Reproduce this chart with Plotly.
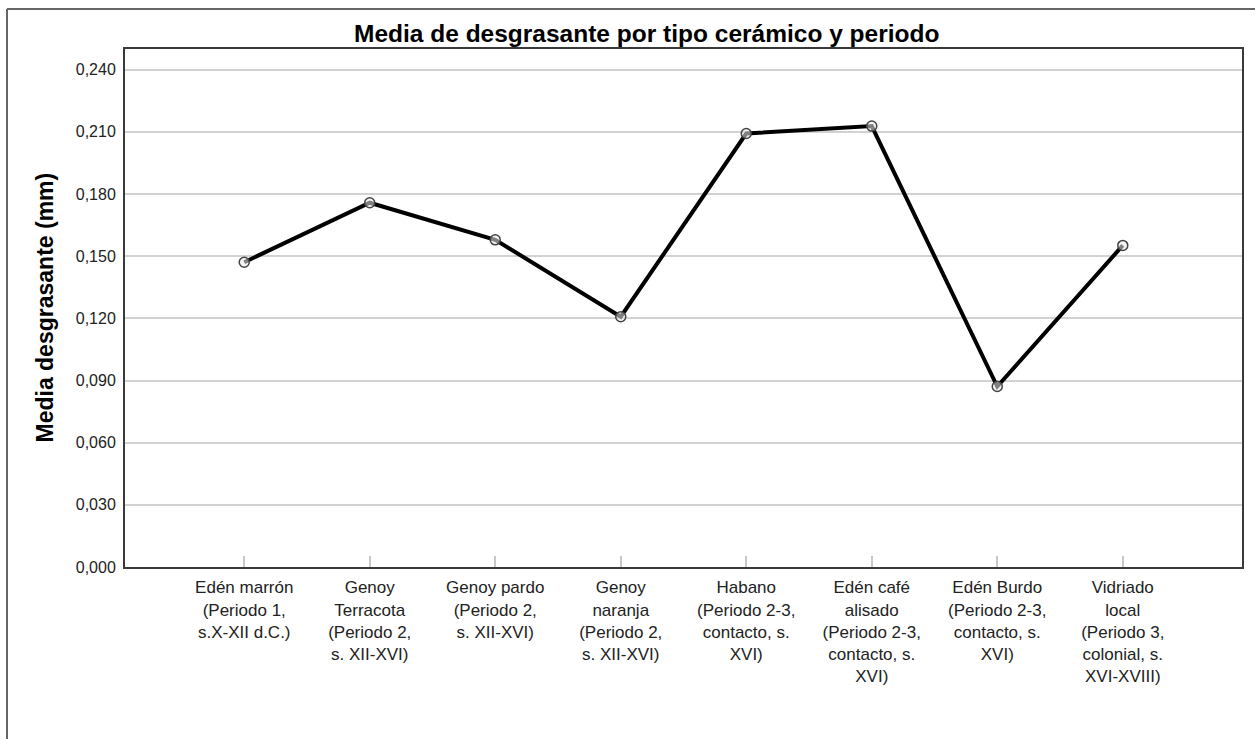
import plotly.graph_objects as go

# Tipos cerámicos (orden del eje X) y media de desgrasante en mm
categorias = [
    "Edén marrón", "Genoy Terracota", "Genoy pardo", "Genoy naranja",
    "Habano", "Edén café alisado", "Edén Burdo", "Vidriado local",
]
etiquetas = [
    "Edén marrón<br>(Periodo 1,<br>s.X-XII d.C.)",
    "Genoy<br>Terracota<br>(Periodo 2,<br>s. XII-XVI)",
    "Genoy pardo<br>(Periodo 2,<br>s. XII-XVI)",
    "Genoy<br>naranja<br>(Periodo 2,<br>s. XII-XVI)",
    "Habano<br>(Periodo 2-3,<br>contacto, s.<br>XVI)",
    "Edén café<br>alisado<br>(Periodo 2-3,<br>contacto, s.<br>XVI)",
    "Edén Burdo<br>(Periodo 2-3,<br>contacto, s.<br>XVI)",
    "Vidriado<br>local<br>(Periodo 3,<br>colonial, s.<br>XVI-XVIII)",
]
medias = [0.1471, 0.1758, 0.1579, 0.1208, 0.2092, 0.2128, 0.0871, 0.1552]
y_ticks = [0.000, 0.030, 0.060, 0.090, 0.120, 0.150, 0.180, 0.210, 0.240]

W, H = 1255, 739
L, R, T, B = 125, 1242, 49, 567  # plot area in pixels


def px_x(p):
    return (p - L) / (R - L)


def px_y(p):
    return (B - p) / (B - T)


FONT = "Liberation Sans, Arial, sans-serif"

fig = go.Figure(
    go.Scatter(
        x=categorias,
        y=medias,
        mode="lines+markers",
        line=dict(color="#000000", width=4),
        marker=dict(
            symbol="circle",
            size=10,
            color="rgba(235,235,235,0.55)",
            line=dict(color="#444444", width=1.5),
        ),
        showlegend=False,
        hoverinfo="x+y",
    )
)

fig.update_layout(
    width=W,
    height=H,
    margin=dict(l=L, r=W - R, t=T, b=H - B, pad=0),
    paper_bgcolor="white",
    plot_bgcolor="white",
    separators=",.",
    font=dict(family=FONT, color="#222222"),
    xaxis=dict(
        type="category",
        range=[-0.95, 7.95],
        tickvals=categorias,
        ticktext=etiquetas,
        tickfont=dict(size=17, color="#222222"),
        ticks="inside",
        ticklen=11,
        tickwidth=2,
        tickcolor="#c8c8c8",
        ticklabelstandoff=4,
        showgrid=False,
        showline=True,
        linecolor="#3a3a3a",
        linewidth=2,
        mirror=True,
        zeroline=False,
    ),
    yaxis=dict(
        range=[0, 0.25],
        tickvals=y_ticks,
        tickformat=".3f",
        tickfont=dict(size=16, color="#222222"),
        ticks="",
        ticklabelstandoff=4,
        showgrid=True,
        gridcolor="#d2d2d2",
        gridwidth=2,
        showline=True,
        linecolor="#3a3a3a",
        linewidth=2,
        mirror=True,
        zeroline=False,
    ),
    annotations=[
        dict(
            text="<b>Media de desgrasante por tipo cerámico y periodo</b>",
            x=px_x(646), y=px_y(34), xref="paper", yref="paper",
            xanchor="center", yanchor="middle", showarrow=False,
            font=dict(size=24.5, color="#000000", family=FONT),
        ),
        dict(
            text="<b>Media desgrasante (mm)</b>",
            x=px_x(44.5), y=0.5, xref="paper", yref="paper",
            xanchor="center", yanchor="middle", showarrow=False,
            textangle=-90,
            font=dict(size=23, color="#000000", family=FONT),
        ),
    ],
    shapes=[
        # marco exterior del gráfico
        dict(type="line", xref="paper", yref="paper",
             x0=px_x(7), x1=px_x(W + 5), y0=px_y(9), y1=px_y(9),
             line=dict(color="#666666", width=2)),
        dict(type="line", xref="paper", yref="paper",
             x0=px_x(7), x1=px_x(7), y0=px_y(9), y1=px_y(H + 5),
             line=dict(color="#666666", width=2)),
    ],
)

fig.write_html("out.html")
